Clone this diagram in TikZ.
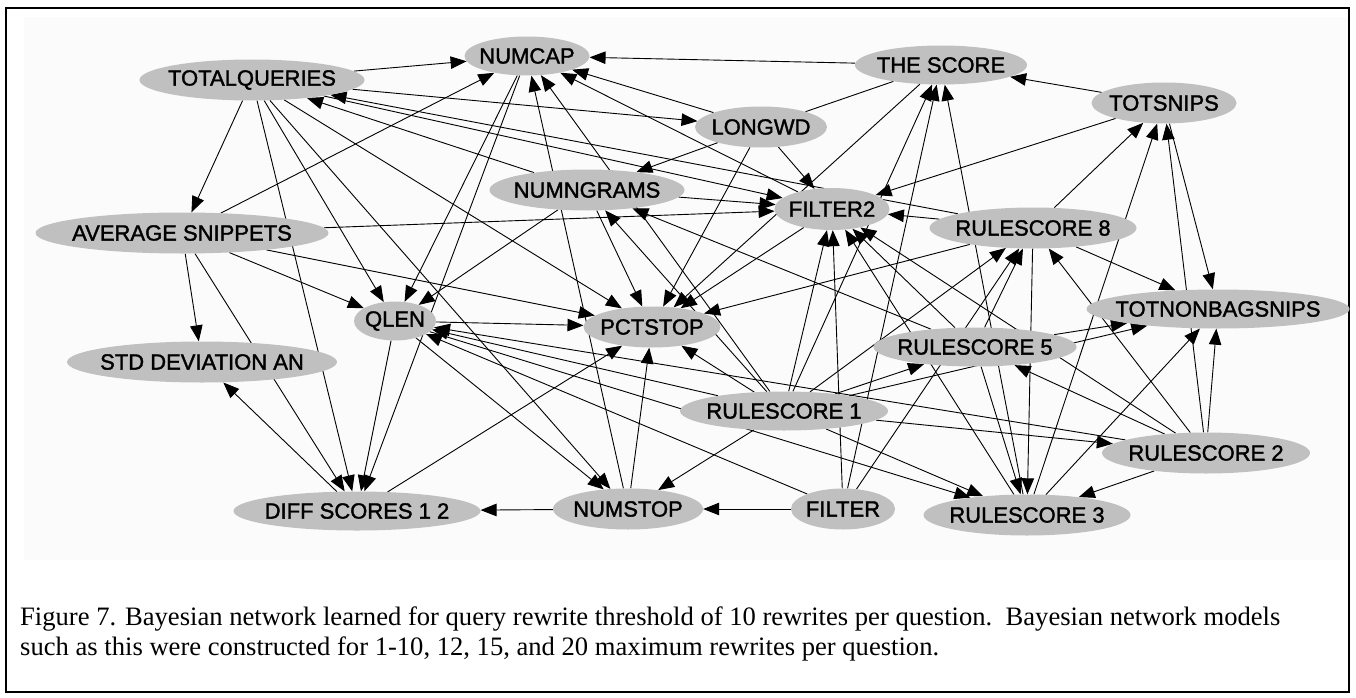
\documentclass[tikz,border=0pt]{standalone}
\usepackage{fontspec}
\setmainfont{Liberation Serif}
\newfontfamily\labelfont[FakeBold=1.6]{Liberation Sans}
\usetikzlibrary{shapes.geometric,arrows.meta}
\definecolor{nodegray}{HTML}{C0C0C0}
\definecolor{panel}{HTML}{FBFBFB}
\pgfdeclarelayer{back}
\pgfdeclarelayer{edges}
\pgfsetlayers{back,edges,main}
\begin{document}
\begin{tikzpicture}[x=1pt,y=-1pt,
  var/.style={ellipse, fill=nodegray, inner sep=0pt,
    font=\labelfont\fontsize{22}{22}\selectfont},
  link/.style={line width=0.9pt, -{Triangle[length=16pt,width=12.5pt]}},
  plain/.style={line width=0.9pt},
  caption/.style={anchor=base west, inner sep=0pt, font=\fontsize{26.6}{30}\selectfont}]
\useasboundingbox (0,0) rectangle (1356,698);
\begin{pgfonlayer}{back}
\fill[white] (0,0) rectangle (1356,698);
\fill[panel] (24,17) rectangle (1348,560);
\end{pgfonlayer}
\draw[line width=2pt] (6,8) rectangle (1349,692);

% variables of the network
\newcommand{\var}[5]{\node[var, minimum width=#4pt, minimum height=#5pt] (#1) at (#2) {\makebox[0pt]{#3}};}
\var{tq}{252,80}{TOTALQUERIES}{225}{41}
\var{nc}{527,56}{NUMCAP}{125}{39}
\var{ts}{941,65}{THE SCORE}{172}{39}
\var{tsn}{1164,103}{TOTSNIPS}{145}{41}
\var{lw}{761,127}{LONGWD}{132}{41}
\var{ng}{587,190}{NUMNGRAMS}{195}{41}
\var{ftwo}{832,209}{FILTER2}{115}{42}
\var{reight}{1033,228}{RULESCORE 8}{207}{41}
\var{avs}{182,233}{AVERAGE SNIPPETS}{293}{41}
\var{ql}{395,321}{QLEN}{82}{39}
\var{pc}{652,327}{PCTSTOP}{137}{41}
\var{tnb}{1218,309}{TOTNONBAGSNIPS}{263}{39}
\var{sd}{202,362}{STD DEVIATION AN}{270}{41}
\var{rfive}{975,347}{RULESCORE 5}{203}{39}
\var{rone}{784,411}{RULESCORE 1}{208}{39}
\var{rtwo}{1206,453}{RULESCORE 2}{208}{41}
\var{ds}{357,511}{DIFF SCORES 1 2}{247}{39}
\var{ns}{628,509}{NUMSTOP}{150}{41}
\var{fi}{843,509}{FILTER}{104}{41}
\var{rthree}{1027,515}{RULESCORE 3}{207}{41}

% directed links, drawn beneath the ellipses
\begin{pgfonlayer}{edges}
\foreach \a/\b in {
  tq/nc, tq/lw, tq/avs, tq/ql, tq/ds, tq/ns, tq/pc, tq/ftwo,
  avs/nc, avs/ftwo, avs/ql, avs/pc, avs/sd, avs/ds,
  ds/sd, ds/pc,
  ns/ds, ns/pc, ns/nc,
  ql/pc, ql/ds, ql/ns, ql/rthree,
  nc/ql, nc/ds,
  ng/tq, ng/ftwo, ng/ql, ng/pc,
  lw/nc, lw/ng, lw/ftwo, lw/pc,
  ts/nc, ts/pc,
  tsn/ts, tsn/ftwo, tsn/tnb,
  ftwo/nc, ftwo/pc,
  reight/tq, reight/ftwo, reight/pc, reight/tsn, reight/tnb, reight/rthree,
  rfive/reight, rfive/tnb, rfive/rthree, rfive/ftwo, rfive/ng,
  rone/ts, rone/ftwo, rone/nc, rone/ng, rone/ql, rone/pc, rone/ns,
  rone/reight, rone/rfive, rone/tnb, rone/rtwo, rone/rthree,
  fi/ns, fi/ts, fi/ftwo, fi/ql, fi/reight,
  rtwo/tsn, rtwo/tnb, rtwo/reight, rtwo/rfive, rtwo/rthree, rtwo/ftwo, rtwo/ql,
  rthree/ts, rthree/tsn, rthree/tnb, rthree/ftwo}
  \draw[link] (\a) -- (\b);
\draw[plain] (lw) -- (ts);
\end{pgfonlayer}

% caption
\node[caption] (capone) at (20,625) {Figure 7. Bayesian network learned for query rewrite threshold of 10 rewrites per question.\ \ Bayesian network models};
\node[caption] (captwo) at (20,655) {such as this were constructed for 1-10, 12, 15, and 20 maximum rewrites per question.};
\end{tikzpicture}
\end{document}
